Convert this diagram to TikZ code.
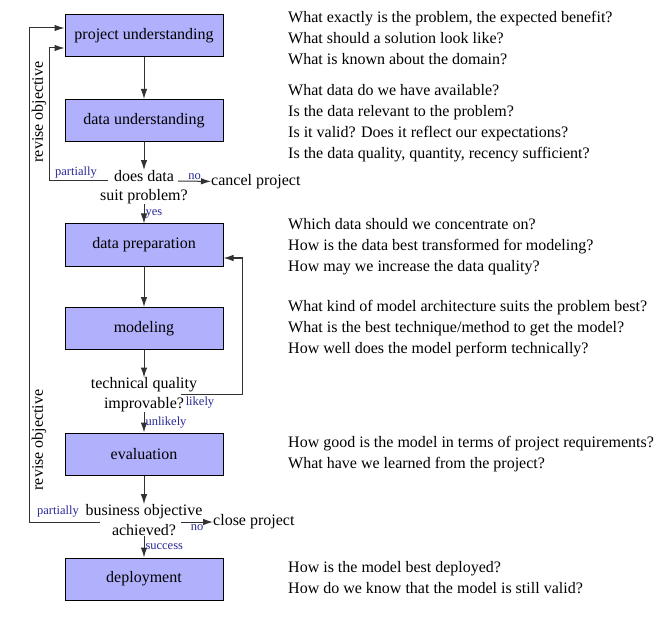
\documentclass[tikz,border=0pt]{standalone}
\usepackage{fontspec}
\setmainfont{Liberation Serif}
\usetikzlibrary{arrows.meta,calc,positioning}
\definecolor{boxblue}{RGB}{176,176,252}
\definecolor{lblblue}{RGB}{40,40,150}
\definecolor{linegray}{RGB}{50,50,50}

\begin{document}
\begin{tikzpicture}[x=1pt,y=-1pt,
  phase/.style={draw=black, line width=1pt, fill=boxblue, minimum width=158pt,
    minimum height=42pt, font=\fontsize{16}{18}\selectfont},
  query/.style={align=center, inner sep=0pt, font=\fontsize{16}{19}\selectfont},
  lbl/.style={text=lblblue, inner sep=1pt, font=\fontsize{12.5}{14}\selectfont},
  notes/.style={align=left, anchor=north west, inner sep=0pt,
    font=\fontsize{16}{21}\selectfont},
  flow/.style={draw=linegray, line width=1pt, -{Latex[length=10pt,width=6.5pt]}}]
\useasboundingbox (0,0) rectangle (668,617);
%phase boxes
\foreach \nm/\txt/\y in {pu/project understanding/36, du/data understanding/120.5,
    dp/data preparation/245, mo/modeling/328.5, ev/evaluation/454, de/deployment/579}
  \node[phase] (\nm) at (144,\y) {\txt};
%decisions
\node[query] (q1) at (144,187) {does data\\suit problem?};
\node[query, font=\fontsize{16}{20}\selectfont] (q2) at (144,395) {technical quality\\improvable?};
\node[query, font=\fontsize{16}{20}\selectfont] (q3) at (144,520) {business objective\\achieved?};
\node[anchor=west, inner sep=0pt, font=\fontsize{16}{18}\selectfont] (cancel) at (211,182) {cancel project};
\node[anchor=west, inner sep=0pt, font=\fontsize{16}{18}\selectfont] (close) at (213,522) {close project};
%loose ends of the loops
\coordinate (q1no) at (178,181);
\coordinate (q1back) at (108,181);
\coordinate (q2back) at (181,394);
\coordinate (q3no) at (181,522);
\coordinate (q3back) at (100,522);
\coordinate (inner) at (49,48);
\coordinate (outer) at (29,28);
\coordinate (loopR) at (242,258);
%main flow
\draw[flow] (pu) -- (du);
\draw[flow] (du) -- (q1);
\draw[flow] (q1) -- node[lbl, right] {yes} (dp);
\draw[flow] (dp) -- (mo);
\draw[flow] (mo) -- (q2);
\draw[flow] (q2) -- node[lbl, right] {unlikely} (ev);
\draw[flow] (ev) -- (q3);
\draw[flow] (q3) -- node[lbl, right] {success} (de);
%exits
\draw[flow] (q1no) -- node[lbl, above] {no} (cancel);
\draw[flow] (q3no) -- node[lbl, below=1pt] {no} (close);
%loops back
\draw[flow] (q1back) -| (inner) -- (inner -| pu.west);
\draw[flow] (q3back) -| (outer) -- (outer -| pu.west);
\draw[flow] (q2back) -| (loopR) -- (loopR -| dp.east);
\node[lbl] (p1) at (76,173) {partially};
\node[lbl] (p2) at (58,512) {partially};
\node[lbl] (lk) at (200,403) {likely};
\node[rotate=90, font=\fontsize{16}{18}\selectfont] (rv1) at (39,112) {revise objective};
\node[rotate=90, font=\fontsize{16}{18}\selectfont] (rv2) at (39,440) {revise objective};
%questions
\node[notes] (n1) at (288,11) {What exactly is the problem, the expected benefit?\\
  What should a solution look like?\\What is known about the domain?};
\node[notes] (n2) at (288,84) {What data do we have available?\\
  Is the data relevant to the problem?\\Is it valid? Does it reflect our expectations?\\
  Is the data quality, quantity, recency sufficient?};
\node[notes] (n3) at (288,218) {Which data should we concentrate on?\\
  How is the data best transformed for modeling?\\How may we increase the data quality?};
\node[notes] (n4) at (288,300) {What kind of model architecture suits the problem best?\\
  What is the best technique/method to get the model?\\How well does the model perform technically?};
\node[notes] (n5) at (288,436) {How good is the model in terms of project requirements?\\
  What have we learned from the project?};
\node[notes] (n6) at (288,561) {How is the model best deployed?\\
  How do we know that the model is still valid?};
\end{tikzpicture}
\end{document}
